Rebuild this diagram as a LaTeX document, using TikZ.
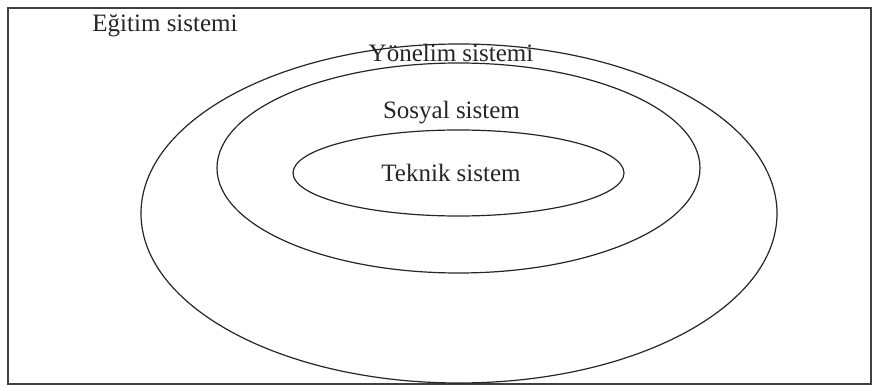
\documentclass[tikz,border=0pt]{standalone}
\usepackage{fontspec}
\setmainfont{Liberation Serif}
\begin{document}
\begin{tikzpicture}[x=1pt,y=-1pt,
  lbl/.style={font=\fontsize{25}{27}\selectfont, inner sep=0pt, anchor=base, text=black!85},
  ln/.style={draw=black!85, line width=1.2pt}]
\useasboundingbox (0,0) rectangle (880,387);
\fill[white] (0,0) rectangle (880,387);
\draw[ln, line width=1.5pt, draw=black!75] (8,8) rectangle (871,384);
\draw[ln] (459,213.5) ellipse [x radius=318, y radius=169.5];
\draw[ln] (458.5,168) ellipse [x radius=241.5, y radius=105];
\draw[ln] (458.5,173) ellipse [x radius=165.5, y radius=43];
\node[lbl] (edu) at (165,32) {Eğitim sistemi};
\node[lbl] (yon) at (451,61.5) {Yönelim sistemi};
\node[lbl] (sos) at (451.5,119) {Sosyal sistem};
\node[lbl] (tek) at (451,181.5) {Teknik sistem};
\end{tikzpicture}
\end{document}
